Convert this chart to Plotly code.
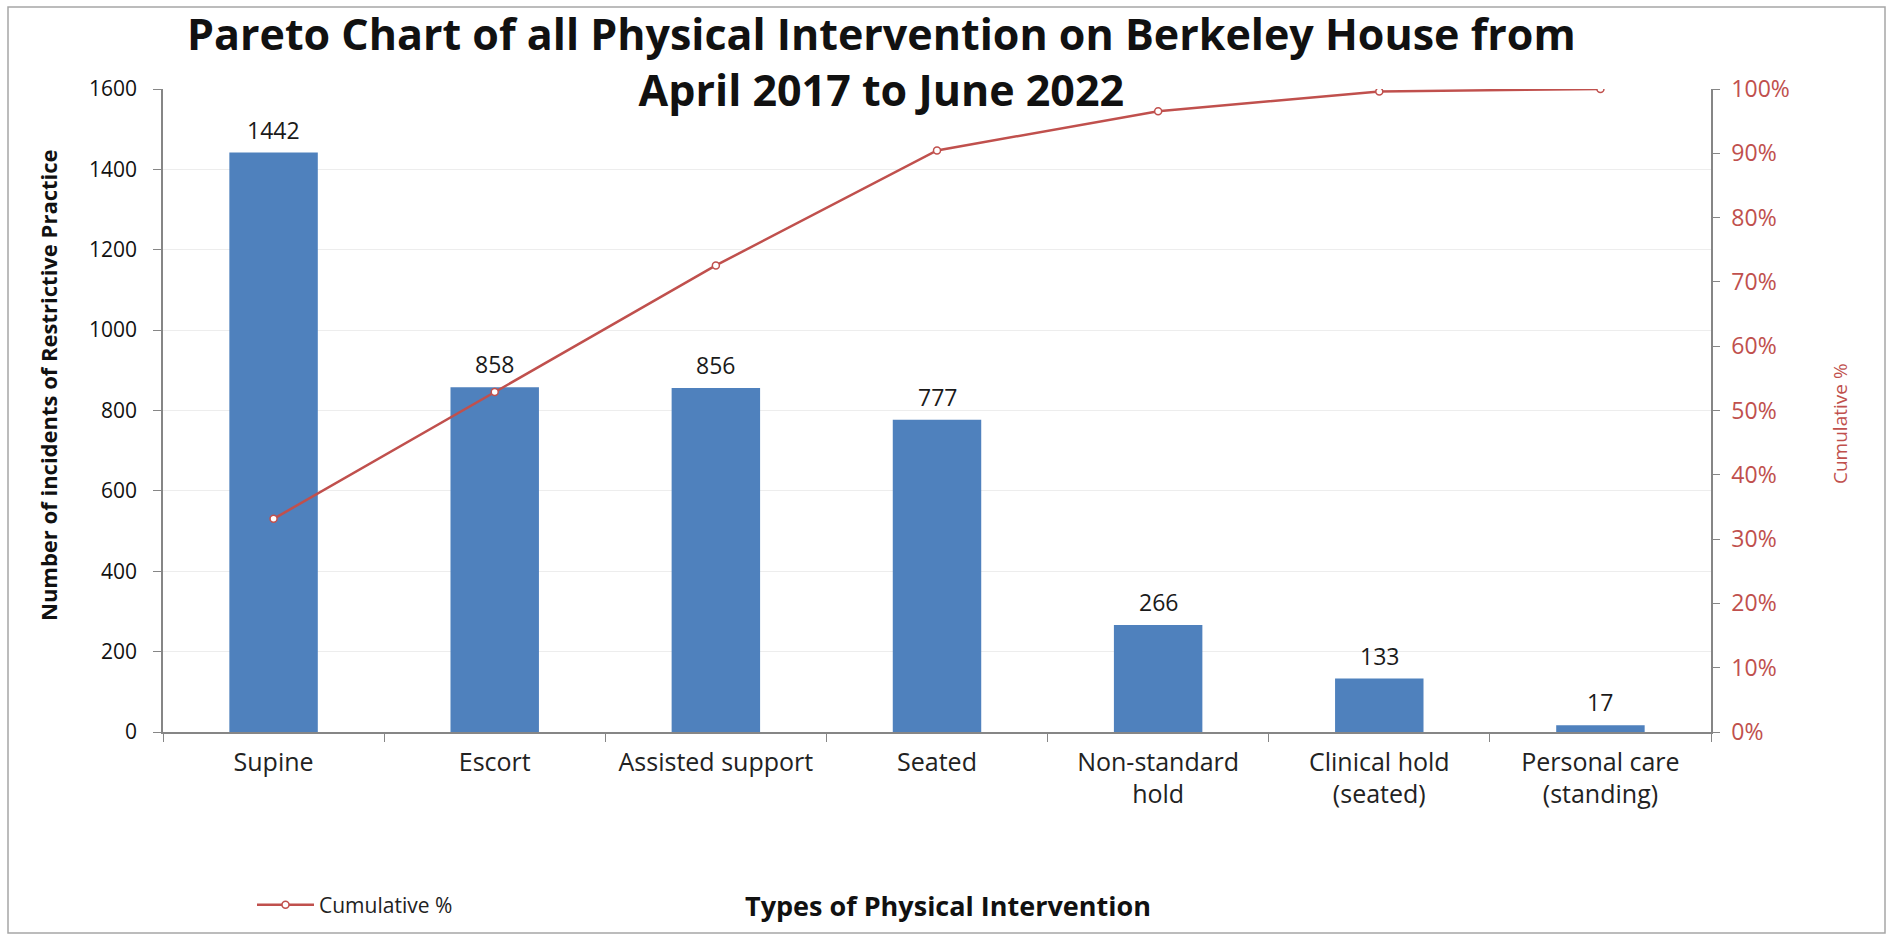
import numpy as np
import plotly.graph_objects as go

# Intervention types (sorted by count) and incident counts
categories = ["Supine", "Escort", "Assisted support", "Seated",
              "Non-standard<br>hold", "Clinical hold<br>(seated)", "Personal care<br>(standing)"]
counts = [1442, 858, 856, 777, 266, 133, 17]

# Cumulative share of all incidents
cumulative = list(np.cumsum(counts) / np.sum(counts))

left_ticks = [0, 200, 400, 600, 800, 1000, 1200, 1400, 1600]
right_ticks = [0, 0.1, 0.2, 0.3, 0.4, 0.5, 0.6, 0.7, 0.8, 0.9, 1.0]

title_text = "Pareto Chart of all Physical Intervention on Berkeley House from<br>April 2017 to June 2022"

BAR = "#4F81BD"
RED = "#C0504D"
AXIS = "#868686"
FONT = "Open Sans"

W, H = 1892, 937
L, R, T, B = 163, 181, 89, 205
PW, PH = W - L - R, H - T - B


def px_x(px):
    return (px - L) / PW


def px_y(py):
    return (H - B - py) / PH


fig = go.Figure()

fig.add_trace(go.Bar(
    x=categories, y=counts, name="Count", showlegend=False,
    marker=dict(color=BAR, line=dict(width=0)), width=0.4,
    hoverinfo="x+y",
))

fig.add_trace(go.Scatter(
    x=categories, y=cumulative, name="Cumulative %", yaxis="y2",
    mode="lines+markers",
    line=dict(color=RED, width=2.5),
    marker=dict(symbol="circle", size=7, color="white",
                line=dict(color=RED, width=1.5)),
))

annotations = []
# Value labels above bars
for c, v in zip(categories, counts):
    annotations.append(dict(
        x=c, y=v, xref="x", yref="y", text=str(v), showarrow=False,
        yanchor="bottom", yshift=5, font=dict(family=FONT, size=23, color="#1a1a1a"),
    ))

# Chart title (two lines)
annotations.append(dict(
    x=px_x(881), y=px_y(62), xref="paper", yref="paper",
    text=f"<b>{title_text}</b>", showarrow=False, xanchor="center", yanchor="middle",
    font=dict(family=FONT, size=43, color="#111111"),
))

# Axis titles
annotations.append(dict(
    x=px_x(48), y=px_y(385), xref="paper", yref="paper", textangle=-90,
    text="<b>Number of incidents of Restrictive Practice</b>", showarrow=False,
    xanchor="center", yanchor="middle", font=dict(family=FONT, size=22, color="#111111"),
))
annotations.append(dict(
    x=px_x(1840), y=px_y(423), xref="paper", yref="paper", textangle=-90,
    text="Cumulative %", showarrow=False,
    xanchor="center", yanchor="middle", font=dict(family=FONT, size=19, color=RED),
))
annotations.append(dict(
    x=px_x(948), y=px_y(905), xref="paper", yref="paper",
    text="<b>Types of Physical Intervention</b>", showarrow=False,
    xanchor="center", yanchor="middle", font=dict(family=FONT, size=27, color="#111111"),
))

fig.update_layout(
    width=W, height=H,
    margin=dict(l=L, r=R, t=T, b=B),
    paper_bgcolor="white", plot_bgcolor="white",
    font=dict(family=FONT, color="#222222"),
    bargap=0.6,
    xaxis=dict(
        type="category", showline=True, linecolor=AXIS, linewidth=1.5,
        ticks="outside", tickson="boundaries", ticklen=8, tickcolor=AXIS,
        ticklabelstandoff=7,
        tickfont=dict(family=FONT, size=25, color="#222222"),
        showgrid=False, fixedrange=True,
    ),
    yaxis=dict(
        range=[0, 1600], tickvals=left_ticks, showline=True, linecolor=AXIS, linewidth=1.5,
        ticks="outside", ticklen=8, tickcolor=AXIS, ticklabelstandoff=12,
        tickfont=dict(family=FONT, size=21, color="#111111"),
        showgrid=True, gridcolor="#EDEDED", gridwidth=1, zeroline=False,
    ),
    yaxis2=dict(
        range=[0, 1.0], tickvals=right_ticks, tickformat=".0%", overlaying="y", side="right",
        showline=True, linecolor=AXIS, linewidth=1.5,
        ticks="outside", ticklen=7, tickcolor=AXIS, ticklabelstandoff=7,
        tickfont=dict(family=FONT, size=23, color=RED),
        showgrid=False, zeroline=False,
    ),
    legend=dict(
        orientation="h", x=px_x(252), y=px_y(905), xanchor="left", yanchor="middle",
        itemwidth=57,
        font=dict(family=FONT, size=21, color="#222222"), bgcolor="rgba(0,0,0,0)",
    ),
    annotations=annotations,
    shapes=[dict(
        type="rect", xref="paper", yref="paper",
        x0=px_x(8), x1=px_x(1885), y0=px_y(933), y1=px_y(7),
        line=dict(color="#A6A6A6", width=1.5), fillcolor="rgba(0,0,0,0)", layer="below",
    )],
)

fig.write_html("out.html")
